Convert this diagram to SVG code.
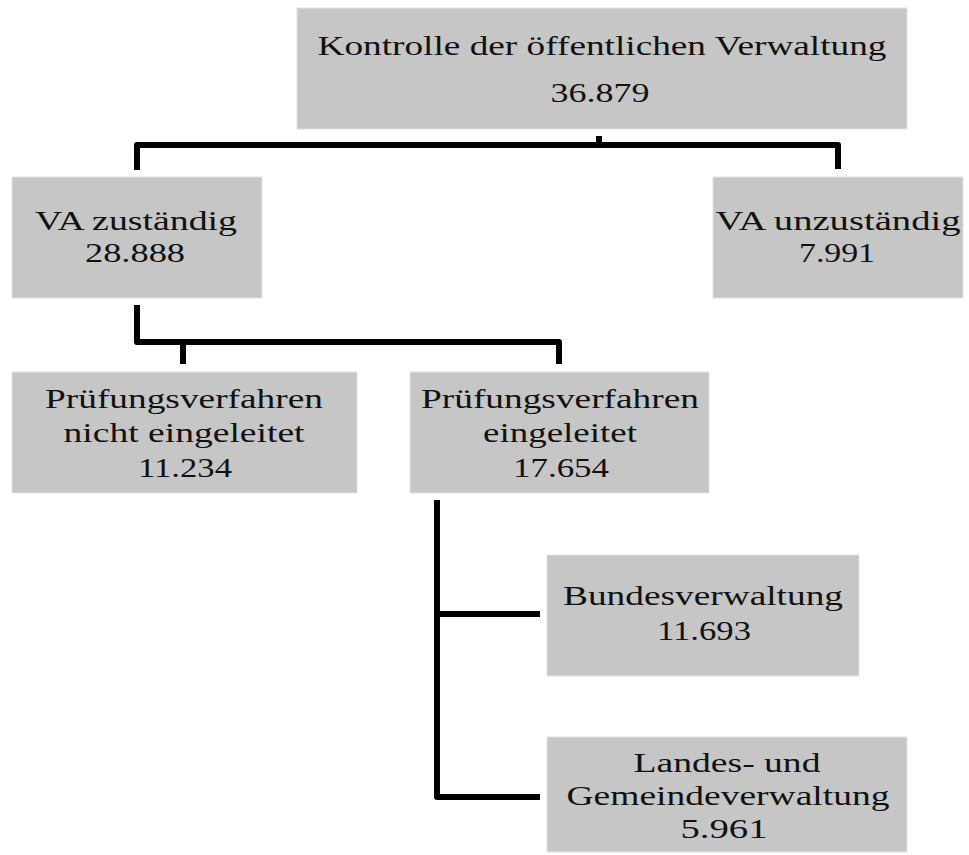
<svg xmlns="http://www.w3.org/2000/svg" width="969" height="855" viewBox="0 0 969 855">
<style>
.box{fill:#c6c6c6;stroke:#e2e2e2;stroke-width:1}
.t{font-family:"Liberation Serif","Times New Roman",serif;font-size:28px;fill:#111;text-anchor:middle}
.c{fill:none;stroke:#000;stroke-width:6;stroke-linejoin:round;stroke-linecap:butt}
</style>
<rect width="969" height="855" fill="#fff"/>
<g id="connectors">
<path class="c" d="M599 136V145"/>
<path class="c" d="M137 170V145H838V169"/>
<path class="c" d="M137 305V342H559V364"/>
<path class="c" d="M183 342V364"/>
<path class="c" d="M437 500V797H540"/>
<path class="c" d="M437 614H540"/>
</g>
<g id="n-kontrolle">
<rect class="box" x="297" y="8" width="610" height="121"/>
<text class="t" x="602" y="55" textLength="569" lengthAdjust="spacingAndGlyphs">Kontrolle der öffentlichen Verwaltung</text>
<text class="t" x="600" y="102" textLength="99" lengthAdjust="spacingAndGlyphs">36.879</text>
</g>
<g id="n-zustaendig">
<rect class="box" x="12" y="177" width="250" height="121"/>
<text class="t" x="136" y="230" textLength="202" lengthAdjust="spacingAndGlyphs">VA zuständig</text>
<text class="t" x="135" y="262" textLength="100" lengthAdjust="spacingAndGlyphs">28.888</text>
</g>
<g id="n-unzustaendig">
<rect class="box" x="713" y="177" width="250" height="121"/>
<text class="t" x="838" y="230" textLength="245" lengthAdjust="spacingAndGlyphs">VA unzuständig</text>
<text class="t" x="837" y="262" textLength="76" lengthAdjust="spacingAndGlyphs">7.991</text>
</g>
<g id="n-nicht-eingeleitet">
<rect class="box" x="12" y="372" width="345" height="121"/>
<text class="t" x="184" y="408" textLength="278" lengthAdjust="spacingAndGlyphs">Prüfungsverfahren</text>
<text class="t" x="184" y="442" textLength="241" lengthAdjust="spacingAndGlyphs">nicht eingeleitet</text>
<text class="t" x="185" y="477" textLength="94" lengthAdjust="spacingAndGlyphs">11.234</text>
</g>
<g id="n-eingeleitet">
<rect class="box" x="410" y="372" width="299" height="121"/>
<text class="t" x="560" y="408" textLength="278" lengthAdjust="spacingAndGlyphs">Prüfungsverfahren</text>
<text class="t" x="560" y="442" textLength="154" lengthAdjust="spacingAndGlyphs">eingeleitet</text>
<text class="t" x="561" y="477" textLength="96" lengthAdjust="spacingAndGlyphs">17.654</text>
</g>
<g id="n-bund">
<rect class="box" x="547" y="555" width="312" height="121"/>
<text class="t" x="703" y="605" textLength="280" lengthAdjust="spacingAndGlyphs">Bundesverwaltung</text>
<text class="t" x="704" y="640" textLength="94" lengthAdjust="spacingAndGlyphs">11.693</text>
</g>
<g id="n-land">
<rect class="box" x="547" y="737" width="360" height="115"/>
<text class="t" x="727" y="772" textLength="187" lengthAdjust="spacingAndGlyphs">Landes- und</text>
<text class="t" x="728" y="805" textLength="323" lengthAdjust="spacingAndGlyphs">Gemeindeverwaltung</text>
<text class="t" x="724" y="838" textLength="87" lengthAdjust="spacingAndGlyphs">5.961</text>
</g>
</svg>
